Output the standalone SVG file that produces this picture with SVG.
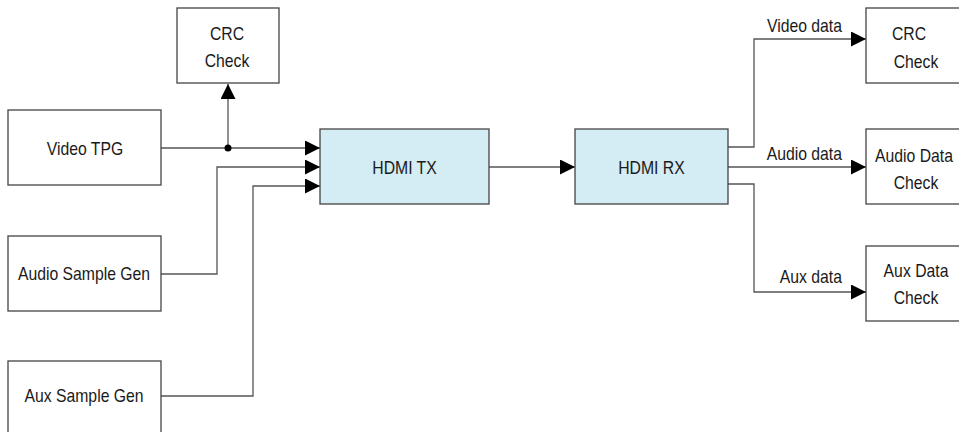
<svg xmlns="http://www.w3.org/2000/svg" width="959" height="432" viewBox="0 0 959 432">
<style>
.box{fill:#ffffff;stroke:#444444;stroke-width:1.3}
.blue{fill:#d4ecf3;stroke:#444444;stroke-width:1.3}
.t{font-family:"Liberation Sans",Arial,sans-serif;font-size:19px;fill:#1a1a1a;text-anchor:middle}
.lbl{font-family:"Liberation Sans",Arial,sans-serif;font-size:19px;fill:#1a1a1a;text-anchor:end}
.c{fill:none;stroke:#555555;stroke-width:1.3}
</style>
<defs>
<marker id="ah" markerUnits="userSpaceOnUse" markerWidth="15" markerHeight="15" refX="15" refY="7.5" orient="auto">
<path d="M0,0 L15,7.5 L0,15 z" fill="#000000"/>
</marker>
</defs>
<rect width="959" height="432" fill="#ffffff"/>
<g id="connectors">
<path class="c" d="M161,148 H320" marker-end="url(#ah)"/>
<path class="c" d="M228,148 V84" marker-end="url(#ah)"/>
<circle cx="228" cy="148" r="3.5" fill="#000000"/>
<path class="c" d="M161,274 H217 V167 H320" marker-end="url(#ah)"/>
<path class="c" d="M161,396 H253 V186 H320" marker-end="url(#ah)"/>
<path class="c" d="M489,167 H575" marker-end="url(#ah)"/>
<path class="c" d="M728,147 H754 V39 H866" marker-end="url(#ah)"/>
<path class="c" d="M728,167 H866" marker-end="url(#ah)"/>
<path class="c" d="M728,184 H754 V292 H866" marker-end="url(#ah)"/>
<text class="lbl" transform="translate(842,32) scale(0.83,1)">Video data</text>
<text class="lbl" transform="translate(842,160) scale(0.83,1)">Audio data</text>
<text class="lbl" transform="translate(842,283) scale(0.83,1)">Aux data</text>
</g>
<g id="crc_tx">
<rect class="box" x="177" y="8" width="102" height="75"/>
<text class="t" transform="translate(227,40) scale(0.83,1)">CRC</text>
<text class="t" transform="translate(227,67) scale(0.83,1)">Check</text>
</g>
<g id="video_tpg">
<rect class="box" x="8" y="110" width="153" height="75"/>
<text class="t" transform="translate(85,155) scale(0.83,1)">Video TPG</text>
</g>
<g id="audio_gen">
<rect class="box" x="8" y="236" width="153" height="75"/>
<text class="t" transform="translate(84,280) scale(0.83,1)">Audio Sample Gen</text>
</g>
<g id="aux_gen">
<rect class="box" x="8" y="361" width="153" height="75"/>
<text class="t" transform="translate(84,402) scale(0.83,1)">Aux Sample Gen</text>
</g>
<g id="hdmi_tx">
<rect class="blue" x="320" y="129" width="169" height="75"/>
<text class="t" transform="translate(404.5,174) scale(0.83,1)">HDMI TX</text>
</g>
<g id="hdmi_rx">
<rect class="blue" x="575" y="129" width="153" height="75"/>
<text class="t" transform="translate(651.5,174) scale(0.83,1)">HDMI RX</text>
</g>
<g id="crc_rx">
<rect class="box" x="866" y="8" width="96" height="75"/>
<text class="t" transform="translate(909,40) scale(0.83,1)">CRC</text>
<text class="t" transform="translate(916,68) scale(0.83,1)">Check</text>
</g>
<g id="audio_check">
<rect class="box" x="866" y="129" width="96" height="75"/>
<text class="t" transform="translate(914,162) scale(0.83,1)">Audio Data</text>
<text class="t" transform="translate(916,189) scale(0.83,1)">Check</text>
</g>
<g id="aux_check">
<rect class="box" x="866" y="246" width="96" height="75"/>
<text class="t" transform="translate(916,277) scale(0.83,1)">Aux Data</text>
<text class="t" transform="translate(916,304) scale(0.83,1)">Check</text>
</g>
</svg>
